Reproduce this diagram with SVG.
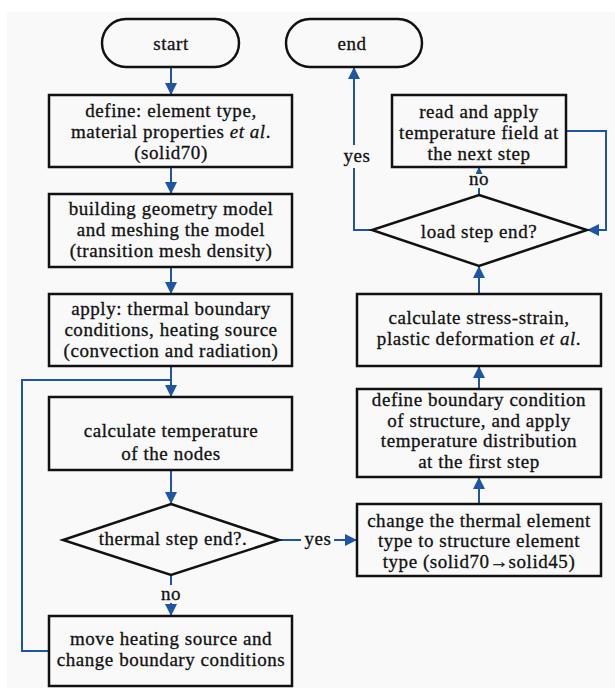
<svg xmlns="http://www.w3.org/2000/svg" width="615" height="688" viewBox="0 0 615 688">
<defs>
<style>
.box{fill:none;stroke:#111;stroke-width:2.5}
.t{font-family:"Liberation Serif","Times New Roman",serif;font-size:19px;letter-spacing:0.55px;fill:#111;stroke:#111;stroke-width:0.3px;text-anchor:middle}
.c{fill:none;stroke:#1e56a5;stroke-width:2}
</style>
<marker id="ah" viewBox="0 0 12 12" refX="12" refY="6" markerWidth="12" markerHeight="12" markerUnits="userSpaceOnUse" orient="auto">
<path d="M0,0 L12,6 L0,12 Z" fill="#1e56a5"/>
</marker>
<marker id="ahs" viewBox="0 0 8 8" refX="8" refY="4" markerWidth="7" markerHeight="7" markerUnits="userSpaceOnUse" orient="auto">
<path d="M0,0 L8,4 L0,8 Z" fill="#1e56a5"/>
</marker>
</defs>
<rect x="0" y="0" width="615" height="688" fill="#ffffff"/>
<rect x="7" y="12" width="608" height="676" fill="#f9f9f9"/>
<g id="connectors">
<line class="c" x1="171" y1="67" x2="171" y2="95" marker-end="url(#ah)"/>
<line class="c" x1="171" y1="167" x2="171" y2="194" marker-end="url(#ah)"/>
<line class="c" x1="171" y1="267" x2="171" y2="294" marker-end="url(#ah)"/>
<line class="c" x1="171" y1="366" x2="171" y2="397" marker-end="url(#ah)"/>
<polyline class="c" points="49,651 22,651 22,380 171,380"/>
<line class="c" x1="171" y1="470" x2="171" y2="504" marker-end="url(#ah)"/>
<line class="c" x1="171" y1="575" x2="171" y2="585"/>
<line class="c" x1="171" y1="603" x2="171" y2="616" marker-end="url(#ah)"/>
<line class="c" x1="279" y1="540" x2="301" y2="540"/>
<line class="c" x1="334" y1="540" x2="357" y2="540" marker-end="url(#ah)"/>
<line class="c" x1="479" y1="504" x2="479" y2="477" marker-end="url(#ah)"/>
<line class="c" x1="479" y1="389" x2="479" y2="366" marker-end="url(#ah)"/>
<line class="c" x1="479" y1="294" x2="479" y2="266" marker-end="url(#ah)"/>
<line class="c" x1="479" y1="195" x2="479" y2="188"/>
<line class="c" x1="479" y1="174" x2="479" y2="167" marker-end="url(#ahs)"/>
<polyline class="c" points="566,131 606,131 606,230 587,230" marker-end="url(#ah)"/>
<polyline class="c" points="372,230 354,230 354,168"/>
<line class="c" x1="354" y1="145" x2="354" y2="67" marker-end="url(#ah)"/>
<text class="t" x="357" y="162">yes</text>
<text class="t" x="318" y="545">yes</text>
<text class="t" x="171" y="600">no</text>
<text class="t" x="479" y="185">no</text>
</g>
<g id="start">
<rect class="box" x="102" y="19" width="137" height="48" rx="24"/>
<text class="t" x="171" y="50">start</text>
</g>
<g id="end">
<rect class="box" x="286" y="19" width="136" height="48" rx="24"/>
<text class="t" x="352" y="50">end</text>
</g>
<g id="define">
<rect class="box" x="49" y="95" width="243" height="72"/>
<text class="t" x="171" y="117">define: element type,</text>
<text class="t" x="171" y="138">material properties <tspan font-style="italic">et al</tspan>.</text>
<text class="t" x="171" y="159">(solid70)</text>
</g>
<g id="build">
<rect class="box" x="49" y="194" width="243" height="73"/>
<text class="t" x="171" y="215">building geometry model</text>
<text class="t" x="171" y="236">and meshing the model</text>
<text class="t" x="171" y="257">(transition mesh density)</text>
</g>
<g id="apply">
<rect class="box" x="49" y="294" width="243" height="72"/>
<text class="t" x="171" y="315">apply: thermal boundary</text>
<text class="t" x="171" y="336">conditions, heating source</text>
<text class="t" x="171" y="357">(convection and radiation)</text>
</g>
<g id="calctemp">
<rect class="box" x="49" y="397" width="243" height="73"/>
<text class="t" x="171" y="437">calculate temperature</text>
<text class="t" x="171" y="460">of the nodes</text>
</g>
<g id="thermaldiamond">
<polygon class="box" points="171,504 279,540 171,575 63,540"/>
<text class="t" x="173" y="545">thermal step end?.</text>
</g>
<g id="move">
<rect class="box" x="49" y="616" width="243" height="70"/>
<text class="t" x="171" y="645">move heating source and</text>
<text class="t" x="171" y="666">change boundary conditions</text>
</g>
<g id="change">
<rect class="box" x="357" y="504" width="244" height="72"/>
<text class="t" x="479" y="527">change the thermal element</text>
<text class="t" x="479" y="547">type to structure element</text>
<text class="t" x="479" y="568">type (solid70<tspan letter-spacing="0">→</tspan>solid45)</text>
</g>
<g id="defbound">
<rect class="box" x="357" y="389" width="244" height="88"/>
<text class="t" x="479" y="406">define boundary condition</text>
<text class="t" x="479" y="427">of structure, and apply</text>
<text class="t" x="479" y="447">temperature distribution</text>
<text class="t" x="479" y="468">at the first step</text>
</g>
<g id="stress">
<rect class="box" x="357" y="294" width="244" height="72"/>
<text class="t" x="479" y="324">calculate stress-strain,</text>
<text class="t" x="479" y="345">plastic deformation <tspan font-style="italic">et al</tspan>.</text>
</g>
<g id="loaddiamond">
<polygon class="box" points="479,195 587,230 479,266 372,230"/>
<text class="t" x="479" y="238">load step end?</text>
</g>
<g id="read">
<rect class="box" x="392" y="95" width="174" height="72"/>
<text class="t" x="479" y="118">read and apply</text>
<text class="t" x="479" y="139">temperature field at</text>
<text class="t" x="479" y="160">the next step</text>
</g>
</svg>
